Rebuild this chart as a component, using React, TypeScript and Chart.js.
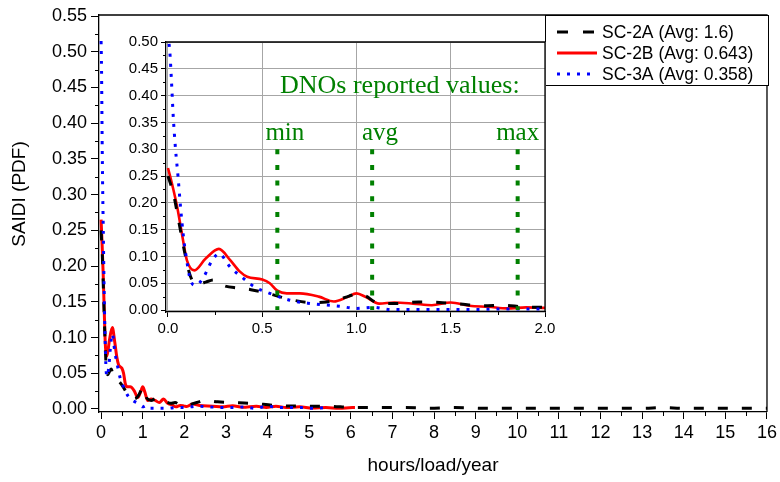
import React, { useEffect, useRef } from 'react';
import { Chart, registerables } from 'chart.js';

Chart.register(...registerables);

const SANS = '"Liberation Sans", Arial, sans-serif';
const SERIF = '"Liberation Serif", "Times New Roman", serif';
const GREEN = '#008000';

// ---- data ----
const sc2aX = [0, 0.03, 0.06, 0.09, 0.12, 0.16, 0.2, 0.24, 0.3, 0.37, 0.44, 0.53, 0.6, 0.67, 0.76, 0.84, 0.9, 0.96, 1.0, 1.05, 1.1, 1.2, 1.33, 1.44, 1.55, 1.67, 1.78, 1.88, 2.0, 2.3, 2.5, 2.8, 3.1, 3.6, 4.2, 4.8, 5.4, 6.1, 6.6, 7.3, 7.9, 8.5, 9.2, 10, 11, 12, 13, 13.5, 14, 15, 16];
const sc2aY = [0.25, 0.215, 0.16, 0.105, 0.062, 0.048, 0.052, 0.056, 0.045, 0.041, 0.038, 0.031, 0.024, 0.018, 0.014, 0.015, 0.019, 0.026, 0.03, 0.026, 0.015, 0.012, 0.015, 0.014, 0.011, 0.008, 0.009, 0.006, 0.005, 0.009, 0.012, 0.01, 0.009, 0.008, 0.005, 0.004, 0.004, 0.002, 0.002, 0.002, 0.001, 0.002, 0.001, 0.001, 0.001, 0.001, 0.001, 0.002, 0.001, 0.001, 0.001];

const sc2bX = [0, 0.025, 0.05, 0.075, 0.1, 0.14, 0.2, 0.27, 0.33, 0.38, 0.42, 0.5, 0.54, 0.58, 0.63, 0.7, 0.8, 0.88, 0.95, 1.0, 1.05, 1.12, 1.2, 1.3, 1.4, 1.5, 1.6, 1.7, 1.8, 1.9, 2.0, 2.06, 2.2, 2.37, 2.68, 2.92, 3.16, 3.4, 3.73, 3.97, 4.2, 4.45, 4.77, 5.08, 5.4, 5.72, 6.04, 6.1];
const sc2bY = [0.265, 0.23, 0.19, 0.14, 0.093, 0.074, 0.096, 0.114, 0.093, 0.072, 0.062, 0.057, 0.05, 0.036, 0.031, 0.031, 0.025, 0.016, 0.024, 0.031, 0.024, 0.012, 0.014, 0.012, 0.009, 0.014, 0.008, 0.006, 0.003, 0.005, 0.004, 0.0035, 0.007, 0.005, 0.004, 0.003, 0.0045, 0.0025, 0.004, 0.002, 0.004, 0.002, 0.003, 0.0015, 0.002, 0.001, 0.002, 0.002];

const sc3aX = [0, 0.011, 0.018, 0.028, 0.04, 0.053, 0.067, 0.081, 0.094, 0.12, 0.147, 0.19, 0.23, 0.27, 0.33, 0.4, 0.46, 0.54, 0.65, 0.76, 0.91, 1.0, 1.09, 1.18, 1.4, 1.6, 1.8, 2.0, 2.3, 2.6, 2.9, 3.2, 3.45, 3.7, 4.0, 4.25, 4.5, 4.8, 5.1, 5.4, 5.5];
const sc3aY = [0.515, 0.475, 0.43, 0.36, 0.3, 0.25, 0.19, 0.14, 0.105, 0.055, 0.046, 0.062, 0.09, 0.105, 0.08, 0.059, 0.043, 0.031, 0.018, 0.012, 0.007, 0.003, 0.005, 0.001, 0.001, 0.001, 0.002, 0.002, 0.004, 0.003, 0.002, 0.002, 0.003, 0.001, 0.004, 0.002, 0.002, 0.002, 0.001, 0.002, 0.002];

const legendLabels = ['SC-2A (Avg: 1.6)', 'SC-2B (Avg: 0.643)', 'SC-3A (Avg: 0.358)'];

const mainXTicks = [0, 1, 2, 3, 4, 5, 6, 7, 8, 9, 10, 11, 12, 13, 14, 15, 16];
const mainYTicks = [0, 0.05, 0.1, 0.15, 0.2, 0.25, 0.3, 0.35, 0.4, 0.45, 0.5, 0.55];
const insetXTicks = [0, 0.5, 1.0, 1.5, 2.0];
const insetYTicks = [0, 0.05, 0.1, 0.15, 0.2, 0.25, 0.3, 0.35, 0.4, 0.45, 0.5];

const dnoTitle = 'DNOs reported values:';
const dnoLabels = ['min', 'avg', 'max'];
const dnoValues = [0.58, 1.083, 1.855];
const dnoLabelX = [0.62, 1.125, 1.855];
const dnoLineTop = 0.3;

// ---- helpers ----
const series = [
  { xs: sc2aX, ys: sc2aY, color: '#000000', dash: [10, 14], label: legendLabels[0], order: 2 },
  { xs: sc2bX, ys: sc2bY, color: '#ff0000', dash: [], label: legendLabels[1], order: 3 },
  { xs: sc3aX, ys: sc3aY, color: '#0000ff', dash: [3, 7], label: legendLabels[2], order: 1 },
];

function makeDatasets(inset: boolean) {
  return series.map((s) => ({
    label: s.label,
    data: s.xs.map((x, i) => ({ x, y: s.ys[i] })),
    borderColor: s.color,
    backgroundColor: s.color,
    borderWidth: s.color === '#ff0000' ? (inset ? 2.6 : 3) : 3,
    borderDash: s.dash,
    borderCapStyle: 'butt',
    pointRadius: 0,
    fill: false,
    cubicInterpolationMode: 'monotone',
    clip: 0,
    order: s.order,
  }));
}

const frameMinor = {
  id: 'frameMinor',
  afterDraw(chart: any, _args: any, opts: any) {
    const { ctx, chartArea: a, scales } = chart;
    const x = scales.x;
    const y = scales.y;
    ctx.save();
    ctx.strokeStyle = '#000';
    ctx.lineWidth = opts.lw || 1.3;
    ctx.beginPath();
    ctx.moveTo(a.left, a.top);
    ctx.lineTo(a.right, a.top);
    ctx.lineTo(a.right, a.bottom);
    ctx.stroke();
    ctx.lineWidth = 1;
    const ml = opts.minorLen || 4;
    const xt = x.ticks.map((t: any) => t.value);
    for (let i = 0; i < xt.length - 1; i++) {
      const px = Math.round(x.getPixelForValue((xt[i] + xt[i + 1]) / 2)) + 0.5;
      ctx.beginPath();
      ctx.moveTo(px, a.bottom);
      ctx.lineTo(px, a.bottom + ml);
      ctx.stroke();
    }
    const yt = y.ticks.map((t: any) => t.value);
    for (let i = 0; i < yt.length - 1; i++) {
      const py = Math.round(y.getPixelForValue((yt[i] + yt[i + 1]) / 2)) + 0.5;
      ctx.beginPath();
      ctx.moveTo(a.left - ml, py);
      ctx.lineTo(a.left, py);
      ctx.stroke();
    }
    ctx.restore();
  },
};

const mainExtras = {
  id: 'mainExtras',
  afterDraw(chart: any) {
    const { ctx, chartArea: a } = chart;
    ctx.save();
    ctx.fillStyle = '#000';
    ctx.font = `19px ${SANS}`;
    ctx.textAlign = 'center';
    ctx.textBaseline = 'middle';
    ctx.fillText('hours/load/year', (a.left + a.right) / 2, 466);
    ctx.translate(20, 194);
    ctx.rotate(-Math.PI / 2);
    ctx.fillText('SAIDI (PDF)', 0, 0);
    ctx.restore();

    // legend
    ctx.save();
    const bx = 545, by = 15, bw = 223, bh = 70;
    ctx.fillStyle = '#fff';
    ctx.fillRect(bx, by, bw, bh);
    ctx.strokeStyle = '#000';
    ctx.lineWidth = 1;
    ctx.strokeRect(bx + 0.5, by + 0.5, bw, bh);
    ctx.font = `17.5px ${SANS}`;
    ctx.textAlign = 'left';
    ctx.textBaseline = 'middle';
    const rows = [32, 53, 74];
    series.forEach((s, i) => {
      ctx.strokeStyle = s.color;
      ctx.lineWidth = 3;
      ctx.setLineDash(s.color === '#000000' ? [11, 15] : s.dash);
      ctx.beginPath();
      ctx.moveTo(557, rows[i]);
      ctx.lineTo(597, rows[i]);
      ctx.stroke();
      ctx.setLineDash([]);
      ctx.fillStyle = '#000';
      ctx.fillText(s.label, 602, rows[i] + 1);
    });
    ctx.restore();
  },
};

const insetExtras = {
  id: 'insetExtras',
  afterDatasetsDraw(chart: any) {
    const { ctx, scales } = chart;
    const x = scales.x;
    const y = scales.y;
    ctx.save();
    ctx.strokeStyle = GREEN;
    ctx.lineWidth = 4;
    ctx.setLineDash([5, 10.7]);
    dnoValues.forEach((v) => {
      const px = x.getPixelForValue(v);
      ctx.beginPath();
      ctx.moveTo(px, y.getPixelForValue(dnoLineTop));
      ctx.lineTo(px, y.getPixelForValue(0));
      ctx.stroke();
    });
    ctx.setLineDash([]);
    ctx.fillStyle = GREEN;
    ctx.textAlign = 'center';
    ctx.textBaseline = 'middle';
    ctx.font = `26px ${SERIF}`;
    ctx.fillText(dnoTitle, x.getPixelForValue(1.23), y.getPixelForValue(0.417));
    ctx.font = `25px ${SERIF}`;
    dnoLabels.forEach((l, i) => {
      ctx.fillText(l, x.getPixelForValue(dnoLabelX[i]), y.getPixelForValue(0.33));
    });
    ctx.restore();
  },
};

function fixTicks(values: number[]) {
  return (scale: any) => {
    scale.ticks = values.map((v) => ({ value: v }));
  };
}

export default function App() {
  const mainRef = useRef<HTMLCanvasElement | null>(null);
  const insetRef = useRef<HTMLCanvasElement | null>(null);

  useEffect(() => {
    const mainCanvas = mainRef.current!;
    const insetCanvas = insetRef.current!;

    const main = new Chart(mainCanvas, {
      type: 'line',
      data: { datasets: makeDatasets(false) as any },
      options: {
        animation: false,
        responsive: false,
        devicePixelRatio: 1,
        layout: { padding: { left: 0, right: 11, top: 15, bottom: 0 } },
        plugins: {
          legend: { display: false },
          tooltip: { enabled: false },
          frameMinor: { lw: 1.3, minorLen: 4 },
        } as any,
        scales: {
          x: {
            type: 'linear',
            min: -0.05,
            max: 16,
            afterBuildTicks: fixTicks(mainXTicks),
            afterFit: (s: any) => { s.height = 70; },
            grid: { display: true, drawOnChartArea: false, drawTicks: true, tickLength: 7, color: '#000', tickColor: '#000', lineWidth: 1 },
            border: { display: true, color: '#000', width: 1.3 },
            ticks: { color: '#000', font: { family: SANS, size: 18 }, padding: 3, maxRotation: 0, autoSkip: false, callback: (v: any) => String(v) },
          },
          y: {
            type: 'linear',
            min: -0.0042,
            max: 0.5514,
            afterBuildTicks: fixTicks(mainYTicks),
            afterFit: (s: any) => { s.width = 99; },
            grid: { display: true, drawOnChartArea: false, drawTicks: true, tickLength: 8, color: '#000', tickColor: '#000', lineWidth: 1 },
            border: { display: true, color: '#000', width: 1.3 },
            ticks: { color: '#000', font: { family: SANS, size: 18 }, padding: 4, autoSkip: false, callback: (v: any) => Number(v).toFixed(2) },
          },
        },
      } as any,
      plugins: [frameMinor, mainExtras],
    });

    const inset = new Chart(insetCanvas, {
      type: 'line',
      data: { datasets: makeDatasets(true) as any },
      options: {
        animation: false,
        responsive: false,
        devicePixelRatio: 1,
        layout: { padding: { left: 0, right: 14, top: 10, bottom: 0 } },
        plugins: {
          legend: { display: false },
          tooltip: { enabled: false },
          frameMinor: { lw: 1.3, minorLen: 3 },
        } as any,
        scales: {
          x: {
            type: 'linear',
            min: -0.0106,
            max: 2,
            afterBuildTicks: fixTicks(insetXTicks),
            afterFit: (s: any) => { s.height = 28; },
            grid: { display: true, drawOnChartArea: true, drawTicks: true, tickLength: 5, color: '#a6a6a6', tickColor: '#000', lineWidth: 1 },
            border: { display: true, color: '#000', width: 1.3 },
            ticks: { color: '#000', font: { family: SANS, size: 15 }, padding: 3, maxRotation: 0, autoSkip: false, callback: (v: any) => Number(v).toFixed(1) },
          },
          y: {
            type: 'linear',
            min: -0.0037,
            max: 0.5,
            afterBuildTicks: fixTicks(insetYTicks),
            afterFit: (s: any) => { s.width = 56; },
            grid: { display: true, drawOnChartArea: true, drawTicks: true, tickLength: 5, color: '#a6a6a6', tickColor: '#000', lineWidth: 1 },
            border: { display: true, color: '#000', width: 1.3 },
            ticks: { color: '#000', font: { family: SANS, size: 15 }, padding: 3, autoSkip: false, callback: (v: any) => Number(v).toFixed(2) },
          },
        },
      } as any,
      plugins: [frameMinor, insetExtras],
    });

    return () => {
      main.destroy();
      inset.destroy();
    };
  }, []);

  return (
    <div style={{ position: 'fixed', left: 0, top: 0, width: 780, height: 482, background: '#fff' }}>
      <canvas ref={mainRef} width={780} height={482} style={{ position: 'absolute', left: 0, top: 0, width: 780, height: 482 }} />
      <canvas ref={insetRef} width={449} height={310} style={{ position: 'absolute', left: 110, top: 30, width: 449, height: 310 }} />
    </div>
  );
}
